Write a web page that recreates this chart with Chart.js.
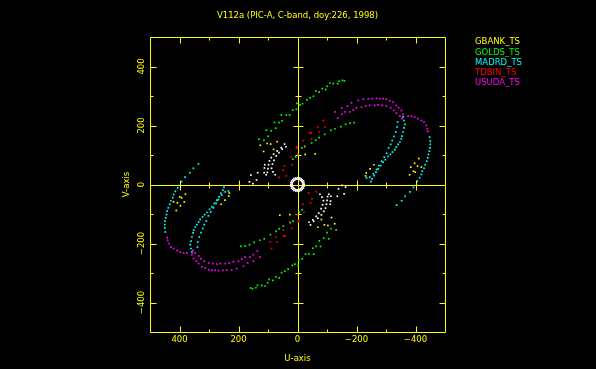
<!DOCTYPE html>
<html>
<head>
<meta charset="utf-8">
<title>V112a uv coverage</title>
<script src="https://cdn.jsdelivr.net/npm/chart.js@4/dist/chart.umd.min.js"></script>
<style>
    html, body { margin: 0; padding: 0; background: #000; }
    canvas { display: block; }
</style>
</head>
<body>
<canvas id="uv_chart" width="596" height="369"></canvas>
<script>
const chartTitle = 'V112a (PIC-A, C-band, doy:226, 1998)';
const stations = ['GBANK_TS', 'GOLDS_TS', 'MADRD_TS', 'TDBIN_TS', 'USUDA_TS'];
const stationColors = ['#ffff00', '#00ff00', '#00ffff', '#ff0000', '#ff00ff'];
const majorTicks = [-400, -200, 0, 200, 400];
const minorTicks = [-300, -100, 100, 300];

// one half of every track as [u, v]; the plot also shows the conjugate point (-u, -v)
const gbank = [
    [-259, 67], [-246, 53], [-233, 39], [-231, 29], [-397, 72], [-411, 88], [-407, 62],
    [-420, 59], [-384, 59], [-393, 45], [-399, 42], [-380, 33], [-26, 102], [-60, 104],
    [69, 145], [81, 119], [91, 137], [103, 139], [126, 133], [115, 112]
];
const goldsOuter = [
    [131, 154], [114, 150], [100, 163], [106, 184], [89, 182], [74, 191], [78, 210],
    [63, 210], [52, 216], [55, 236], [38, 235], [27, 236], [16, 252], [4, 255], [2, 275],
    [-9, 270], [-17, 274], [-32, 287], [-43, 294], [-54, 299], [-62, 317], [-73, 313],
    [-84, 325], [-96, 322], [-101, 333], [-110, 344], [-121, 342], [-136, 342],
    [-141, 350], [-152, 353], [-159, 351]
];
const goldsInner = [
    [16, 86], [6, 94], [-15, 124], [-25, 128], [-48, 141], [-62, 150], [-73, 159],
    [-92, 170], [-113, 184], [-127, 189], [-147, 196], [-163, 204], [-178, 208], [-192, 210]
];
const madrdOuter = [
    [-448, 161], [-450, 147], [-450, 136], [-449, 124], [-447, 113], [-444, 102],
    [-442, 90], [-438, 79], [-433, 67], [-429, 55], [-423, 45], [-420, 34], [-414, 23],
    [-406, 11], [-393, -10], [-381, -25], [-365, -40], [-353, -55], [-336, -70]
];
const madrdInnerA = [
    [-358, 229], [-361, 217], [-364, 204], [-361, 192], [-358, 178], [-354, 164],
    [-352, 155], [-347, 144], [-341, 136], [-335, 127], [-330, 118], [-322, 110],
    [-315, 102], [-307, 95], [-298, 84], [-290, 76], [-282, 64], [-273, 53], [-266, 42],
    [-260, 30], [-253, 19], [-249, 10]
];
const madrdInnerB = [
    [-339, 212], [-338, 195], [-333, 178], [-327, 163], [-321, 149], [-316, 136],
    [-309, 124], [-302, 106], [-294, 93], [-285, 79], [-276, 64], [-268, 51], [-257, 36],
    [-245, 25], [-234, 22]
];
const tdbin = [
    [-88, 217], [-93, 195], [-69, 195], [-73, 178], [-46, 174], [-42, 175], [-48, 155],
    [-20, 149], [-24, 132], [2, 127], [-1, 102], [4, 122], [22, 94], [18, 67], [44, 63],
    [49, 48], [38, 29], [63, 24]
];
const usudaUpper = [
    [-127, 246], [-150, 260], [-169, 266], [-183, 277], [-206, 285], [-223, 289],
    [-240, 290], [-253, 291], [-268, 292], [-279, 291], [-290, 291], [-301, 289],
    [-313, 283], [-324, 279], [-335, 268], [-343, 260], [-352, 251], [-358, 238]
];
const usudaLower = [
    [-136, 225], [-150, 238], [-161, 246], [-178, 246], [-189, 253], [-200, 260],
    [-217, 262], [-231, 266], [-245, 268], [-262, 268], [-273, 270], [-287, 268],
    [-301, 266], [-316, 260], [-327, 251], [-335, 242], [-347, 232], [-354, 223]
];
const usudaTail = [
    [-375, 232], [-386, 232], [-397, 229], [-408, 223], [-420, 217], [-429, 212],
    [-436, 200], [-440, 189], [-442, 180]
];
// short baseline without a legend entry
const shortArcs = [
    [44, 137], [55, 125], [69, 114], [81, 103], [89, 91], [95, 80], [98, 67], [100, 54],
    [102, 41], [106, 33], [52, 120], [63, 108], [72, 97], [80, 82], [85, 69], [88, 55],
    [83, 43], [76, 33], [111, 67], [112, 56], [113, 40], [135, 40], [158, 32], [139, 15],
    [163, 9], [151, 3], [39, 128]
];
const shortRing = [
    [23, 0], [22, 6], [20, 12], [16, 16], [12, 20], [6, 22], [0, 23], [-6, 22], [-12, 20],
    [-16, 16], [-20, 12], [-22, 6],
    [18, 2], [17, 7], [14, 11], [11, 14], [7, 17], [2, 18], [-2, 18], [-7, 17], [-11, 14],
    [-14, 11], [-17, 7], [-18, 2]
];

const withConjugates = (pts) => pts.concat(pts.map(([u, v]) => [-u, -v])).map(([u, v]) => ({ x: u, y: v }));

const trackSets = [
    gbank,
    goldsOuter.concat(goldsInner),
    madrdOuter.concat(madrdInnerA, madrdInnerB),
    tdbin,
    usudaUpper.concat(usudaLower, usudaTail)
];

const datasets = [{
    label: '',
    data: withConjugates(shortArcs.concat(shortRing)),
    backgroundColor: '#ffffff'
}].concat(stations.map((name, i) => ({
    label: name,
    data: withConjugates(trackSets[i]),
    backgroundColor: stationColors[i]
})));

const FONT = '8.5px "DejaVu Sans"';
const YELLOW = '#ffff00';
const crisp = (v) => Math.round(v) + 0.5;

const framePlugin = {
    id: 'frame',
    beforeDraw(chart) {
        const ctx = chart.ctx;
        ctx.save();
        ctx.fillStyle = '#000';
        ctx.fillRect(0, 0, chart.width, chart.height);
        ctx.restore();
    },
    beforeDatasetsDraw(chart) {
        const { ctx, chartArea: a, scales: { x, y } } = chart;
        const L = crisp(a.left), R = crisp(a.right), T = crisp(a.top), B = crisp(a.bottom);
        const x0 = crisp(x.getPixelForValue(0)), y0 = crisp(y.getPixelForValue(0));
        ctx.save();
        ctx.strokeStyle = YELLOW;
        ctx.lineWidth = 1;
        ctx.beginPath();
        ctx.rect(L, T, R - L, B - T);
        ctx.moveTo(L, y0); ctx.lineTo(R, y0);
        ctx.moveTo(x0, T); ctx.lineTo(x0, B);
        const ticks = majorTicks.filter((t) => t !== 0).map((t) => [t, 6, 5])
            .concat(minorTicks.map((t) => [t, 3, 3]));
        ticks.forEach(([t, len, half]) => {
            const px = crisp(x.getPixelForValue(t));
            const py = crisp(y.getPixelForValue(t));
            ctx.moveTo(px, T); ctx.lineTo(px, T + len);
            ctx.moveTo(px, B); ctx.lineTo(px, B - len);
            ctx.moveTo(L, py); ctx.lineTo(L + len, py);
            ctx.moveTo(R, py); ctx.lineTo(R - len, py);
            ctx.moveTo(px, y0 - half); ctx.lineTo(px, y0 + half);
            ctx.moveTo(x0 - half, py); ctx.lineTo(x0 + half, py);
        });
        ctx.stroke();
        ctx.restore();
    },
    afterDraw(chart) {
        const { ctx, chartArea: a, scales: { x, y } } = chart;
        ctx.save();
        ctx.font = FONT;
        ctx.textAlign = 'center';
        ctx.textBaseline = 'middle';
        ctx.fillStyle = YELLOW;
        const fmt = (t) => (t < 0 ? '\u2212' + Math.abs(t) : String(t));

        ctx.fillText(chartTitle, (a.left + a.right) / 2, a.top - 21);

        majorTicks.forEach((t) => {
            ctx.fillText(fmt(t), x.getPixelForValue(t), a.bottom + 8);
        });
        ctx.fillText('U-axis', (a.left + a.right) / 2, a.bottom + 27);

        majorTicks.forEach((t) => {
            ctx.save();
            ctx.translate(a.left - 8.5, y.getPixelForValue(t));
            ctx.rotate(-Math.PI / 2);
            ctx.fillText(fmt(t), 0, 0);
            ctx.restore();
        });
        ctx.save();
        ctx.translate(a.left - 23, (a.top + a.bottom) / 2);
        ctx.rotate(-Math.PI / 2);
        ctx.fillText('V-axis', 0, 0);
        ctx.restore();

        // station legend, text coloured like the points
        ctx.textAlign = 'left';
        stations.forEach((name, i) => {
            ctx.fillStyle = stationColors[i];
            ctx.fillText(name, a.right + 30, a.top + 5 + i * 10.3);
        });
        ctx.restore();
    }
};

new Chart(document.getElementById('uv_chart').getContext('2d'), {
    type: 'scatter',
    data: { datasets },
    options: {
        responsive: false,
        animation: false,
        devicePixelRatio: 1,
        layout: { padding: { left: 150, right: 151, top: 37, bottom: 37 } },
        elements: {
            point: { pointStyle: 'rect', radius: 1.2, borderWidth: 0, hoverRadius: 1.2 }
        },
        scales: {
            x: { type: 'linear', min: -500, max: 500, reverse: true, display: false },
            y: { type: 'linear', min: -500, max: 500, display: false }
        },
        plugins: {
            legend: { display: false },
            tooltip: { enabled: false },
            title: { display: false }
        }
    },
    plugins: [framePlugin]
});
</script>
</body>
</html>
